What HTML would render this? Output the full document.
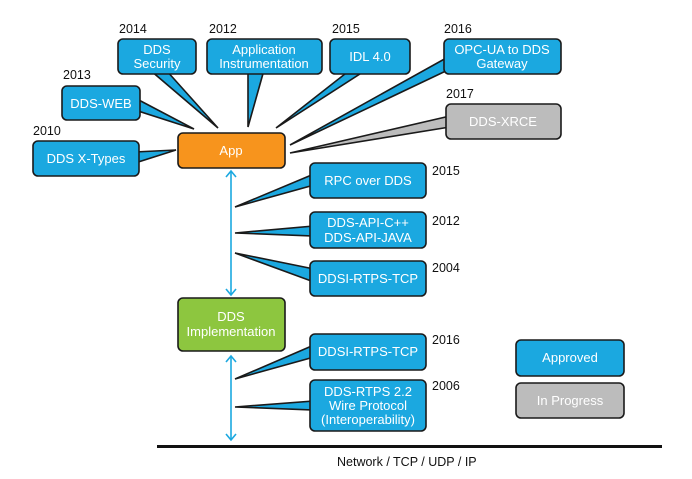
<!DOCTYPE html>
<html><head><meta charset="utf-8"><style>
html,body{margin:0;padding:0;background:#fff;}
svg{display:block;}
text{font-family:"Liberation Sans",sans-serif;}
.b{fill:#1ba8e0;stroke:#1a1a1a;stroke-width:1.6;}
.g{fill:#bcbcbc;stroke:#1a1a1a;stroke-width:1.6;}
.w{fill:#fff;font-size:13px;text-anchor:middle;}
.y{fill:#111;font-size:12.5px;}
</style></head><body>
<svg width="692" height="479" viewBox="0 0 692 479" xmlns="http://www.w3.org/2000/svg">
<!-- tails -->
<polygon class="b" points="150,70 166,70 218,128"/>
<polygon class="b" points="248,70 264,70 248,127"/>
<polygon class="b" points="135,98 135,110 194,129"/>
<polygon class="b" points="135,152 135,163 176,150"/>
<polygon class="b" points="350,70 366,70 276,128"/>
<polygon class="b" points="448,57 448,70 290,145"/>
<polygon class="g" points="450,116 450,127 290,153"/>
<polygon class="b" points="314,174 314,185 235,207"/>
<polygon class="b" points="314,226 314,236 235,233"/>
<polygon class="b" points="314,269 314,282 235,253"/>
<polygon class="b" points="314,345 314,357 235,379"/>
<polygon class="b" points="314,401 314,410 235,407"/>
<!-- vertical arrows -->
<g stroke="#1ba8e0" stroke-width="1.6" fill="none">
<line x1="231" y1="171" x2="231" y2="295"/>
<polyline points="226,177 231,171 236,177"/>
<polyline points="226,289 231,295 236,289"/>
<line x1="231" y1="356" x2="231" y2="440"/>
<polyline points="226,362 231,356 236,362"/>
<polyline points="226,434 231,440 236,434"/>
</g>
<!-- boxes -->
<rect class="b" x="118" y="39" width="78" height="35" rx="5"/>
<text class="w" x="157" y="54">DDS</text><text class="w" x="157" y="68">Security</text>
<rect class="b" x="207" y="39" width="115" height="35" rx="5"/>
<text class="w" x="264" y="54">Application</text><text class="w" x="264" y="68">Instrumentation</text>
<rect class="b" x="62" y="86" width="78" height="34" rx="5"/>
<text class="w" x="101" y="108">DDS-WEB</text>
<rect class="b" x="33" y="141" width="106" height="35" rx="5"/>
<text class="w" x="86" y="163">DDS X-Types</text>
<rect class="b" x="330" y="39" width="80" height="35" rx="5"/>
<text class="w" x="370" y="61">IDL 4.0</text>
<rect class="b" x="444" y="39" width="117" height="35" rx="5"/>
<text class="w" x="502" y="54">OPC-UA to DDS</text><text class="w" x="502" y="68">Gateway</text>
<rect class="g" x="446" y="104" width="115" height="35" rx="5"/>
<text class="w" x="503" y="126">DDS-XRCE</text>
<rect x="178" y="133" width="107" height="35" rx="5" fill="#f7941d" stroke="#1a1a1a" stroke-width="1.6"/>
<text class="w" x="231" y="155">App</text>
<rect class="b" x="310" y="163" width="116" height="35" rx="5"/>
<text class="w" x="368" y="185">RPC over DDS</text>
<rect class="b" x="310" y="212" width="116" height="36" rx="5"/>
<text class="w" x="368" y="227">DDS-API-C++</text><text class="w" x="368" y="242">DDS-API-JAVA</text>
<rect class="b" x="310" y="261" width="116" height="35" rx="5"/>
<text class="w" x="368" y="283">DDSI-RTPS-TCP</text>
<rect x="178" y="298" width="107" height="53" rx="5" fill="#8dc63f" stroke="#1a1a1a" stroke-width="1.6"/>
<text class="w" x="231" y="321">DDS</text><text class="w" x="231" y="336">Implementation</text>
<rect class="b" x="310" y="334" width="116" height="36" rx="5"/>
<text class="w" x="368" y="356">DDSI-RTPS-TCP</text>
<rect class="b" x="310" y="380" width="116" height="51" rx="5"/>
<text class="w" x="368" y="396">DDS-RTPS 2.2</text><text class="w" x="368" y="410">Wire Protocol</text><text class="w" x="368" y="424">(Interoperability)</text>
<rect class="b" x="516" y="340" width="108" height="36" rx="5"/>
<text class="w" x="570" y="362">Approved</text>
<rect class="g" x="516" y="383" width="108" height="35" rx="5"/>
<text class="w" x="570" y="405">In Progress</text>
<!-- years -->
<text class="y" x="119" y="33">2014</text>
<text class="y" x="209" y="33">2012</text>
<text class="y" x="63" y="79">2013</text>
<text class="y" x="33" y="135">2010</text>
<text class="y" x="332" y="33">2015</text>
<text class="y" x="444" y="33">2016</text>
<text class="y" x="446" y="98">2017</text>
<text class="y" x="432" y="175">2015</text>
<text class="y" x="432" y="225">2012</text>
<text class="y" x="432" y="272">2004</text>
<text class="y" x="432" y="344">2016</text>
<text class="y" x="432" y="390">2006</text>
<!-- network -->
<rect x="157" y="445" width="505" height="3" fill="#111"/>
<text x="337" y="466" style="font-size:12.5px" fill="#111">Network / TCP / UDP / IP</text>
</svg>
</body></html>
